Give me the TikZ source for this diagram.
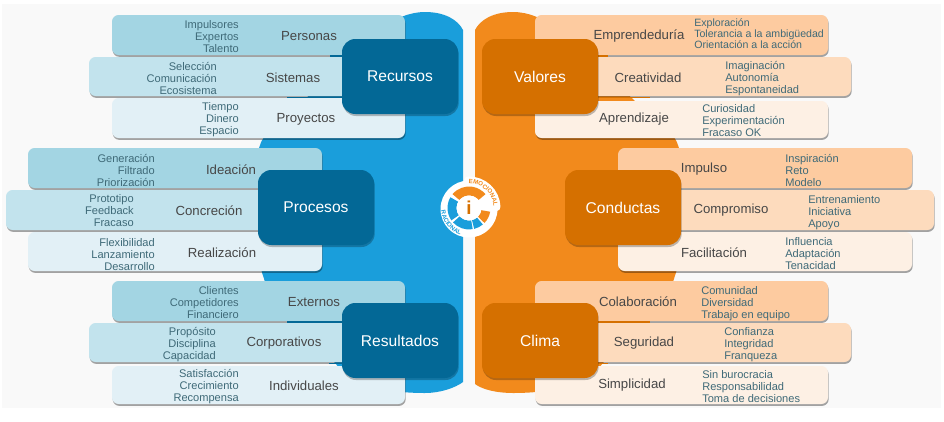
\documentclass[tikz,border=0pt]{standalone}
\usepackage{fontspec}
\setmainfont{Liberation Sans}
\usetikzlibrary{shadows,decorations.text}
\definecolor{bluebg}{HTML}{1A9EDB}
\definecolor{orangebg}{HTML}{F28A1C}
\definecolor{bluebox}{HTML}{036896}
\definecolor{orangebox}{HTML}{D57000}
\definecolor{bA}{HTML}{A3D5E3}
\definecolor{bB}{HTML}{C2E3ED}
\definecolor{bC}{HTML}{E2F0F6}
\definecolor{oA}{HTML}{FDCBA0}
\definecolor{oB}{HTML}{FDDBBD}
\definecolor{oC}{HTML}{FDF0E4}
\definecolor{subtxt}{HTML}{3F6A78}
\definecolor{titletxt}{HTML}{474747}
\tikzset{
  x=0.75pt,y=-0.75pt,
  stripbox/.style={rectangle,rounded corners=5pt,inner sep=0pt,
    drop shadow={shadow xshift=0.5pt,shadow yshift=-1.4pt,opacity=.35,fill=black}},
  mainbox/.style={rectangle,rounded corners=10pt,inner sep=0pt,text=white,
    font=\fontsize{11.7}{14}\selectfont,
    drop shadow={shadow xshift=0.5pt,shadow yshift=-1.5pt,opacity=.25,fill=black}},
  title/.style={text=titletxt,font=\fontsize{9.9}{12}\selectfont,inner sep=0pt},
  sublist/.style={text=subtxt,font=\fontsize{8.3}{9}\selectfont,inner sep=0pt},
  subL/.style={sublist,align=right,anchor=east},
  subR/.style={sublist,align=left,anchor=west},
}
\newcommand{\placebox}[7]{%
  \pgfmathsetmacro{\bw}{(#4-#2)*0.75}\pgfmathsetmacro{\bh}{(#5-#3)*0.75}%
  \node[#6,minimum width=\bw pt,minimum height=\bh pt] (#1) at ({(#2+#4)/2},{(#3+#5)/2}) {#7};}
\newcommand{\lowered}[1]{\raisebox{-0.7pt}{#1}}
\newcommand{\ringseg}[3]{%
  \fill[#3] (#1:12.5) arc[start angle=#1,end angle=#2,radius=12.5] -- (#2:21.5) arc[start angle=#2,end angle=#1,radius=21.5] -- cycle;}
\begin{document}
\begin{tikzpicture}
\useasboundingbox (0,0) rectangle (944,421);
\fill[white] (0,0) rectangle (944,421);
\fill[black!2.5] (2,4) rectangle (941,408);
% background shapes
\fill[bluebg] (463,382) -- (463,30) .. controls (458,20) and (445,12) .. (425,12)
  .. controls (410,12) and (395,18) .. (380,30) -- (264,137) .. controls (259,145) and (258,150) .. (258,160)
  -- (258,260) -- (266,285) -- (350,380)
  .. controls (380,392) and (410,393) .. (425,393) .. controls (440,393) and (455,388) .. (463,382) -- cycle;
\fill[orangebg] (475,384) -- (475,30) .. controls (480,20) and (493,12) .. (513,12)
  .. controls (528,12) and (543,18) .. (558,30) -- (674,137) .. controls (679,145) and (680,150) .. (680,160)
  -- (680,260) -- (672,285) -- (588,380)
  .. controls (558,392) and (528,393) .. (513,393) .. controls (498,393) and (483,390) .. (475,384) -- cycle;
% left top
\placebox{s1}{112}{15}{405}{55}{stripbox,fill=bA}{}
\placebox{s2}{89}{57}{400}{96}{stripbox,fill=bB}{}
\placebox{s3}{112}{98}{405}{138}{stripbox,fill=bC}{}
\fill[bluebox] (330,55) rectangle (345,56.5);
\fill[bluebox] (287,96.5) rectangle (345,98);
\placebox{b1}{342}{39}{458}{114}{mainbox,fill=bluebox}{\lowered{Recursos}}
% left mid
\placebox{s4}{28}{148}{322}{188}{stripbox,fill=bA}{}
\placebox{s5}{6}{190}{316}{230}{stripbox,fill=bB}{}
\placebox{s6}{28}{232}{322}{271}{stripbox,fill=bC}{}
\placebox{b2}{258}{170}{374}{245}{mainbox,fill=bluebox}{\lowered{Procesos}}
% left bottom
\placebox{s7}{112}{281}{405}{321}{stripbox,fill=bA}{}
\placebox{s8}{89}{323}{400}{362}{stripbox,fill=bB}{}
\placebox{s9}{112}{366}{405}{404}{stripbox,fill=bC}{}
\fill[bluebox] (287,321) rectangle (345,322.5);
\fill[bluebox] (329,362.5) rectangle (345,364);
\placebox{b3}{342}{303}{458}{378}{mainbox,fill=bluebox}{\lowered{Resultados}}
% right top
\placebox{s10}{535}{15}{828}{55}{stripbox,fill=oA}{}
\placebox{s11}{540}{57}{851}{96}{stripbox,fill=oB}{}
\placebox{s12}{535}{101}{828}{138}{stripbox,fill=oC}{}
\fill[orangebox] (595,55) rectangle (608,56.5);
\fill[orangebox] (595,96.5) rectangle (650,98);
\placebox{b4}{482}{39}{598}{114}{mainbox,fill=orangebox}{\lowered{Valores}}
% right mid
\placebox{s13}{618}{148}{912}{188}{stripbox,fill=oA}{}
\placebox{s14}{625}{190}{934}{230}{stripbox,fill=oB}{}
\placebox{s15}{618}{232}{912}{271}{stripbox,fill=oC}{}
\placebox{b5}{565}{170}{681}{245}{mainbox,fill=orangebox}{\lowered{Conductas}}
% right bottom
\placebox{s16}{535}{281}{828}{321}{stripbox,fill=oA}{}
\placebox{s17}{540}{323}{851}{362}{stripbox,fill=oB}{}
\placebox{s18}{535}{366}{828}{404}{stripbox,fill=oC}{}
\fill[orangebox] (595,321) rectangle (650,322.5);
\fill[orangebox] (595,362.5) rectangle (608,364);
\placebox{b6}{482}{303}{598}{378}{mainbox,fill=orangebox}{\lowered{Clima}}
% titles
\node[title] (t1) at (309,36.5) {Personas};
\node[title] (t2) at (293,77.5) {Sistemas};
\node[title] (t3) at (306,119.5) {Proyectos};
\node[title] (t4) at (231,169.5) {Ideación};
\node[title] (t5) at (209,210.5) {Concreción};
\node[title] (t6) at (222,252.5) {Realización};
\node[title] (t7) at (314,302) {Externos};
\node[title] (t8) at (284,343.5) {Corporativos};
\node[title] (t9) at (304,385.5) {Individuales};
\node[title] (t10) at (639,36.5) {Emprendeduría};
\node[title] (t11) at (648,77.5) {Creatividad};
\node[title] (t12) at (634,119.5) {Aprendizaje};
\node[title] (t13) at (704,169.5) {Impulso};
\node[title] (t14) at (731,210.5) {Compromiso};
\node[title] (t15) at (714,252.5) {Facilitación};
\node[title] (t16) at (638,302) {Colaboración};
\node[title] (t17) at (644,343.5) {Seguridad};
\node[title] (t18) at (632,385.5) {Simplicidad};
% lists
\node[subL] (l1) at (239,37) {Impulsores\\Expertos\\Talento};
\node[subL] (l2) at (217,78) {Selección\\Comunicación\\Ecosistema};
\node[subL] (l3) at (239,120) {Tiempo\\Dinero\\Espacio};
\node[subL] (l4) at (155,170) {Generación\\Filtrado\\Priorización};
\node[subL] (l5) at (134,211) {Prototipo\\Feedback\\Fracaso};
\node[subL] (l6) at (155,255) {Flexibilidad\\Lanzamiento\\Desarrollo};
\node[subL] (l7) at (239,302.5) {Clientes\\Competidores\\Financiero};
\node[subL] (l8) at (216,344.5) {Propósito\\Disciplina\\Capacidad};
\node[subL] (l9) at (239,386.5) {Satisfacción\\Crecimiento\\Recompensa};
\node[sublist,anchor=west,align=left,font=\fontsize{7.95}{8.25}\selectfont] (r1) at (694,33.5) {Exploración\\Tolerancia a la ambigüedad\\Orientación a la acción};
\node[subR] (r2) at (725,78.5) {Imaginación\\Autonomía\\Espontaneidad};
\node[subR] (r3) at (702,120.5) {Curiosidad\\Experimentación\\Fracaso OK};
\node[subR] (r4) at (785,170) {Inspiración\\Reto\\Modelo};
\node[subR] (r5) at (808,212.5) {Entrenamiento\\Iniciativa\\Apoyo};
\node[subR] (r6) at (785,253.5) {Influencia\\Adaptación\\Tenacidad};
\node[subR] (r7) at (701,303.5) {Comunidad\\Diversidad\\Trabajo en equipo};
\node[subR] (r8) at (724,344.5) {Confianza\\Integridad\\Franqueza};
\node[subR] (r9) at (702,386.5) {Sin burocracia\\Responsabilidad\\Toma de decisiones};
% central logo
\coordinate (c) at (469,209);
\fill[white] (c) circle[radius=28.5];
\begin{scope}[shift={(469,208)},y=0.75pt]
  \draw[white,line width=6pt,line cap=round] (92:27.5) arc[start angle=92,end angle=2,radius=27.5];
  \ringseg{40}{140}{orangebg}
  \ringseg{150}{215}{bluebg}
  \ringseg{222}{280}{bluebg}
  \ringseg{284}{310}{bluebg}
  \ringseg{316}{350}{orangebg}
  \fill[white] (0,0) circle[radius=12.5];
  \node[inner sep=0pt,text=orangebox,font=\bfseries\fontsize{14}{14}\selectfont] (inf) at (0,0) {i};
  \path[decorate,decoration={text along path,text align=center,
      text={|\bfseries\fontsize{4.6}{5}\selectfont\color{orangebg}|EMOCIONAL}}]
    (100:24.5) arc[start angle=100,end angle=-6,radius=24.5];
  \path[decorate,decoration={text along path,text align=center,
      text={|\bfseries\fontsize{4.6}{5}\selectfont\color{bluebg}|RACIONAL}}]
    (170:28) arc[start angle=170,end angle=268,radius=28];
\end{scope}
\end{tikzpicture}
\end{document}
